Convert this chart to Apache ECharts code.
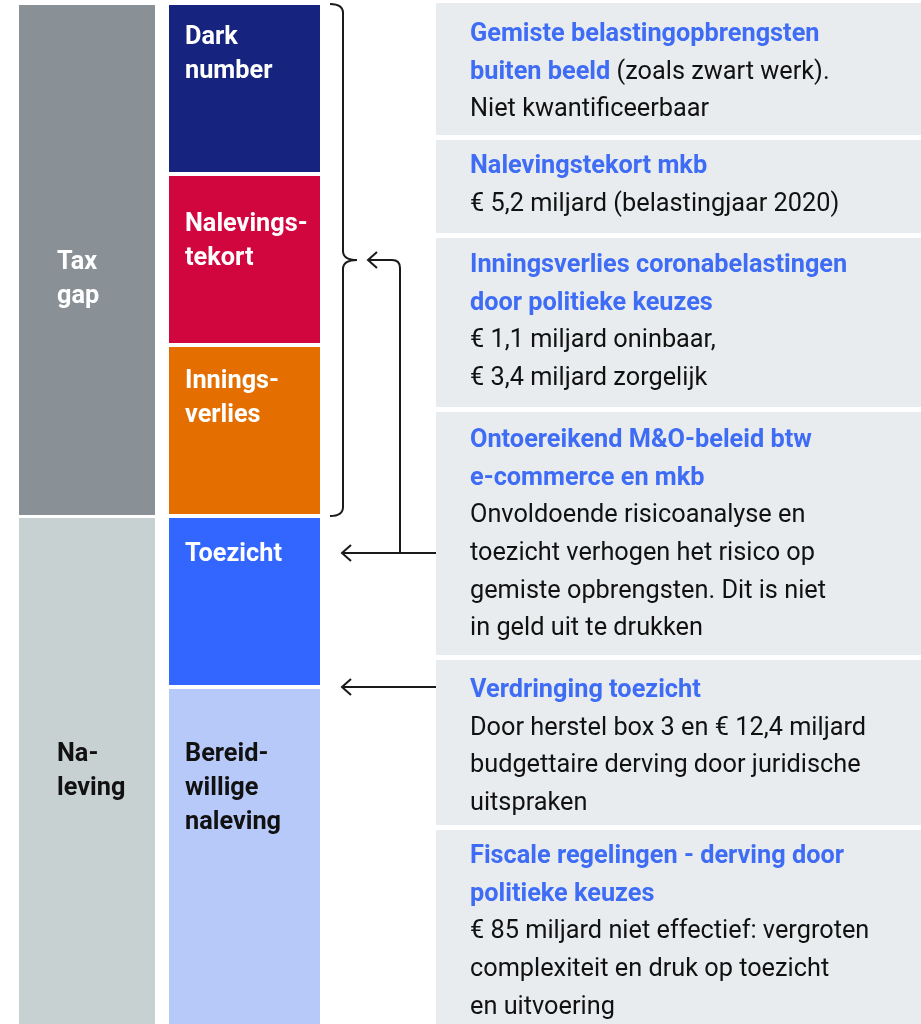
<!DOCTYPE html>
<html><head><meta charset="utf-8">
<script src="https://cdn.jsdelivr.net/npm/echarts@6/dist/echarts.min.js"></script>
<style>html,body{margin:0;padding:0;background:#fff}#c{width:921px;height:1024px}</style>
</head><body><div id="c"></div>
<script>
// ---- data ----
const outerLabels = ['Tax\ngap', 'Na-\nleving'];
const outerValues = [513, 510];
const innerLabels = ['Dark\nnumber', 'Nalevings-\ntekort', 'Innings-\nverlies', 'Toezicht', 'Bereid-\nwillige\nnaleving'];
const innerValues = [171, 171, 171, 171, 340];
const boxValues = [137, 98, 174, 248, 170, 200];
const boxTexts = [
  '{t|Gemiste belastingopbrengsten}\n{t|buiten beeld}{b| (zoals zwart werk).}\n{b|Niet kwantificeerbaar}',
  '{t|Nalevingstekort mkb}\n{b|€ 5,2 miljard (belastingjaar 2020)}',
  '{t|Inningsverlies coronabelastingen}\n{t|door politieke keuzes}\n{b|€ 1,1 miljard oninbaar,}\n{b|€ 3,4 miljard zorgelijk}',
  '{t|Ontoereikend M&O-beleid btw}\n{t|e-commerce en mkb}\n{b|Onvoldoende risicoanalyse en}\n{b|toezicht verhogen het risico op}\n{b|gemiste opbrengsten. Dit is niet}\n{b|in geld uit te drukken}',
  '{t|Verdringing toezicht}\n{b|Door herstel box 3 en € 12,4 miljard}\n{b|budgettaire derving door juridische}\n{b|uitspraken}',
  '{t|Fiscale regelingen - derving door}\n{t|politieke keuzes}\n{b|€ 85 miljard niet effectief: vergroten}\n{b|complexiteit en druk op toezicht}\n{b|en uitvoering}'
];

// ---- layout & style ----
const FONT = 'Roboto, "Noto Sans", sans-serif';
const FS = 25.3;
const outerColors = ['#899196', '#c8d1d2'];
const outerTextColors = ['#ffffff', '#111111'];
const innerColors = ['#16247f', '#d1063f', '#e46e00', '#3366ff', '#b7c9f9'];
const innerTextColors = ['#ffffff', '#ffffff', '#ffffff', '#ffffff', '#111111'];
const boxColor = '#e9ecee';
const titleColor = '#3f6cf5';
const outerCol = {x0: 19, x1: 155, top: 5, gap: 3, padX: 38, labelOff: [241, 220]};
const innerCol = {x0: 169, x1: 320, top: 5, gap: 4, padX: 16, labelOff: [16, 32, 18, 20, 49]};
const boxCol = {x0: 436, x1: 921, top: 3, gap: 5, padX: 34, textOff: [13, 8, 9, 10, 12, 8]};

function stack(values, top) {
  const out = []; let y = top;
  values.forEach(v => { out.push([y, y + v]); y += v; });
  return out;
}
const outerSeg = stack(outerValues, outerCol.top);
const innerSeg = stack(innerValues, innerCol.top);
const boxSeg = stack(boxValues, boxCol.top);

function colSeries(col, segs, colors, labelFn) {
  return {
    type: 'custom', coordinateSystem: 'cartesian2d', silent: true,
    data: segs.map((s, i) => [col.x0, s[0], col.x1, s[1] - col.gap, i]),
    renderItem: function (params, api) {
      const i = api.value(4);
      const p0 = api.coord([api.value(0), api.value(1)]);
      const p1 = api.coord([api.value(2), api.value(3)]);
      return {type: 'group', children: [{
        type: 'rect',
        shape: {x: p0[0], y: p0[1], width: p1[0] - p0[0], height: p1[1] - p0[1]},
        style: {fill: colors[i]}
      }, labelFn(i, p0)]};
    }
  };
}

const colLabel = (col, labels, textColors) => (i, p0) => ({
  type: 'text', x: p0[0] + col.padX, y: p0[1] + col.labelOff[i],
  style: {text: labels[i], fill: textColors[i], font: 'bold ' + FS + 'px ' + FONT, lineHeight: 34, verticalAlign: 'top', align: 'left'}
});
const boxLabel = (i, p0) => ({
  type: 'text', x: p0[0] + boxCol.padX, y: p0[1] + boxCol.textOff[i],
  style: {
    text: boxTexts[i], verticalAlign: 'top', align: 'left',
    font: FS + 'px ' + FONT, fill: '#111', lineHeight: 37.6,
    rich: {
      t: {fill: titleColor, color: titleColor, fontWeight: 'bold', fontSize: FS, fontFamily: FONT, lineHeight: 37.6},
      b: {fill: '#111111', color: '#111111', fontWeight: 'normal', fontSize: FS, fontFamily: FONT, lineHeight: 37.6}
    }
  }
});

// connectors: brace over Tax gap, arrows from boxes to columns
const connectorSeries = {
  type: 'custom', coordinateSystem: 'cartesian2d', silent: true,
  data: [[0]],
  renderItem: function (params, api) {
    const c = (x, y) => api.coord([x, y]);
    const T = outerSeg[0][0] - 1, B = outerSeg[0][1] - outerCol.gap + 1, M = (T + B) / 2;
    const xL = innerCol.x1 + 10, xV = innerCol.x1 + 23, xT = innerCol.x1 + 37, r = 9;
    const pt = (x, y) => { const p = c(x, y); return p[0] + ' ' + p[1]; };
    const brace = 'M' + pt(xL, T) + ' Q' + pt(xV, T) + ' ' + pt(xV, T + r) +
      ' L' + pt(xV, M - r) + ' Q' + pt(xV, M) + ' ' + pt(xT, M) +
      ' Q' + pt(xV, M) + ' ' + pt(xV, M + r) +
      ' L' + pt(xV, B - r) + ' Q' + pt(xV, B) + ' ' + pt(xL, B);
    const yA1 = innerSeg[3][0] + 35;                     // Toezicht label line
    const yA2 = innerSeg[4][0] - innerCol.gap / 2;       // Toezicht / naleving border
    const xTip = innerCol.x1 + 22, xRun = 400, xBox = boxCol.x0, rc = 8;
    const xTip2 = xT + 11;
    const head = (x, y) => ' M' + pt(x + 9, y - 8) + ' L' + pt(x, y) + ' L' + pt(x + 9, y + 8);
    const arrows =
      'M' + pt(xBox, yA1) + ' L' + pt(xTip, yA1) + head(xTip, yA1) +
      ' M' + pt(xRun, yA1) + ' L' + pt(xRun, M + rc) + ' Q' + pt(xRun, M) + ' ' + pt(xRun - rc, M) +
      ' L' + pt(xTip2, M) + head(xTip2, M) +
      ' M' + pt(xBox, yA2) + ' L' + pt(xTip, yA2) + head(xTip, yA2);
    return {type: 'group', children: [
      {type: 'path', shape: {pathData: brace}, style: {fill: null, stroke: '#1a1a1a', lineWidth: 2}},
      {type: 'path', shape: {pathData: arrows}, style: {fill: null, stroke: '#1a1a1a', lineWidth: 2}}
    ]};
  }
};

const chart = echarts.init(document.getElementById('c'), null, {renderer: 'canvas'});
chart.setOption({
  animation: false,
  backgroundColor: '#ffffff',
  grid: {left: 0, right: 0, top: 0, bottom: 0},
  xAxis: {type: 'value', min: 0, max: 921, show: false},
  yAxis: {type: 'value', min: 0, max: 1024, inverse: true, show: false},
  series: [
    colSeries(outerCol, outerSeg, outerColors, colLabel(outerCol, outerLabels, outerTextColors)),
    colSeries(innerCol, innerSeg, innerColors, colLabel(innerCol, innerLabels, innerTextColors)),
    colSeries(boxCol, boxSeg, boxValues.map(() => boxColor), boxLabel),
    connectorSeries
  ]
});
</script></body></html>
